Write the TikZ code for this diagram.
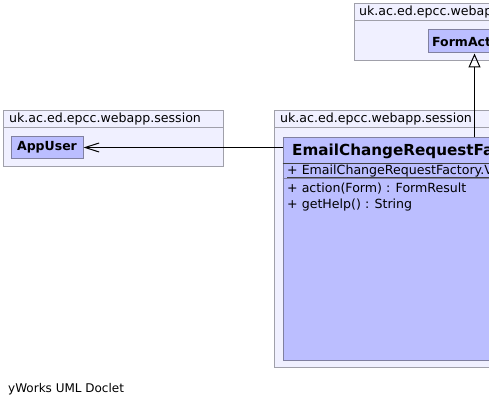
\documentclass[tikz,border=0pt]{standalone}
\usepackage{fontspec}
\setmainfont{DejaVu Sans}
\usetikzlibrary{arrows.meta}

\definecolor{pkgfill}{RGB}{240,240,255}
\definecolor{pkgline}{RGB}{160,160,170}
\definecolor{clsfill}{RGB}{187,190,255}
\definecolor{clsline}{RGB}{128,128,160}

\tikzset{
  pkg/.style={draw=pkgline,fill=pkgfill,line width=1pt},
  cls/.style={draw=clsline,fill=clsfill,line width=1pt,inner sep=0pt},
  label/.style={anchor=base west,inner sep=0pt,font=\fontsize{12.6}{14}\selectfont},
  clsname/.style={label,font=\bfseries\fontsize{12.5}{14}\selectfont},
}

\begin{document}
\begin{tikzpicture}[x=1pt,y=-1pt,>=latex]
  \clip (0,0) rectangle (489,406);
  \fill[white] (0,0) rectangle (489,406);
  % packages
  \draw[pkg] (354.5,3.5) rectangle (500,60.5);
  \draw[pkgline,line width=1pt] (354.5,20.5) -- (500,20.5);
  \node[label] (pkgform) at (359,16) {uk.ac.ed.epcc.webap};
  \draw[pkg] (3.5,110.5) rectangle (223.5,166.5);
  \draw[pkgline,line width=1pt] (3.5,127.5) -- (223.5,127.5);
  \node[label] (pkgleft) at (9,122.5) {uk.ac.ed.epcc.webapp.session};
  \draw[pkg] (274.5,110.5) rectangle (500,367.5);
  \draw[pkgline,line width=1pt] (274.5,127.5) -- (500,127.5);
  \node[label] (pkgright) at (280,122.5) {uk.ac.ed.epcc.webapp.session};
  % classes
  \node[cls,anchor=north west,minimum width=72pt,minimum height=21pt,
        font=\bfseries\fontsize{12.5}{14}\selectfont] (appuser) at (10.5,136.5) {AppUser};
  \node[cls,anchor=north west,minimum width=80pt,minimum height=23pt] (formact) at (427.5,29.5) {};
  \node[clsname] at (432,46.5) {FormAct};
  \node[cls,anchor=north west,minimum width=230pt,minimum height=222pt] (ecrf) at (282.5,137.5) {};
  \node[clsname,font=\bfseries\fontsize{15.2}{18}\selectfont] (ecrfname) at (292,155) {EmailChangeRequestFa};
  \draw[black!75] (ecrf.west |- 0,163.5) -- +(230,0);
  \node[label] (ecrfattr) at (287,175) {+ EmailChangeRequestFactory.V};
  \draw[black!75] (287,177.5) -- +(210,0);
  \draw[clsline,line width=1pt] (ecrf.west |- 0,178.5) -- +(230,0);
  \node[label] (ecrfaction) at (287,192) {+ action(Form) : FormResult};
  \node[label] (ecrfhelp) at (287,208) {+ getHelp() : String};
  % connectors
  \coordinate (inh) at (474.5,137.5);
  \draw[line width=1pt,-{Triangle[open,length=14pt,width=12pt]}] (inh) -- (inh |- formact.south);
  \draw[line width=1pt,-{Straight Barb[length=14pt,width=9pt]}] (ecrf.west |- appuser.east) -- (appuser.east);
  % footer
  \node[label,font=\fontsize{12}{14}\selectfont] (doclet) at (8,392.5) {yWorks UML Doclet};
\end{tikzpicture}
\end{document}
